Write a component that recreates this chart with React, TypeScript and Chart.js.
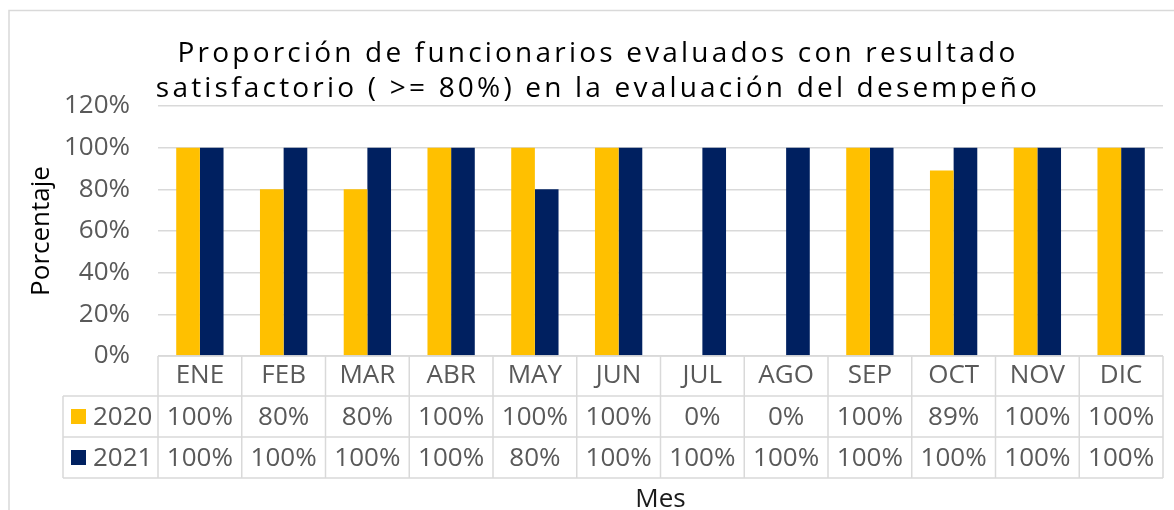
import { useEffect, useRef } from "react";
import { Chart, registerables } from "chart.js";

Chart.register(...registerables);

const months = ["ENE", "FEB", "MAR", "ABR", "MAY", "JUN", "JUL", "AGO", "SEP", "OCT", "NOV", "DIC"];
const series2020 = [100, 80, 80, 100, 100, 100, 0, 0, 100, 89, 100, 100];
const series2021 = [100, 100, 100, 100, 80, 100, 100, 100, 100, 100, 100, 100];
const seriesNames = ["2020", "2021"];
const seriesColors = ["#FFC000", "#002060"];
const yTicks = [0, 20, 40, 60, 80, 100, 120];
const titleLines = [
  "Proporción de funcionarios evaluados con resultado",
  "satisfactorio ( >= 80%) en la evaluación del desempeño",
];
const yTitle = "Porcentaje";
const xTitle = "Mes";

const FONT = "'Open Sans', sans-serif";
const GRAY = "#595959";
const LINE = "#d9d9d9";

const framePlugin = {
  id: "frameAndTitle",
  beforeDraw(chart: any) {
    const ctx = chart.ctx;
    ctx.save();
    ctx.fillStyle = "#ffffff";
    ctx.fillRect(0, 0, chart.width, chart.height);
    ctx.strokeStyle = LINE;
    ctx.lineWidth = 1.5;
    ctx.strokeRect(9, 10.5, chart.width + 20, chart.height + 20);
    ctx.restore();
  },
  afterDraw(chart: any) {
    const ctx = chart.ctx;
    ctx.save();
    ctx.font = `28px ${FONT}`;
    (ctx as any).letterSpacing = "3.2px";
    ctx.fillStyle = "#000000";
    ctx.textAlign = "center";
    ctx.textBaseline = "alphabetic";
    const cx = 598;
    const baselines = [62, 97];
    titleLines.forEach((t, i) => ctx.fillText(t, cx, baselines[i]));
    ctx.restore();
  },
};

const tablePlugin = {
  id: "dataTable",
  afterDraw(chart: any) {
    const ctx = chart.ctx;
    const xs = chart.scales.x;
    const n = months.length;
    const half = (xs.getPixelForValue(1) - xs.getPixelForValue(0)) / 2;
    const left = xs.getPixelForValue(0) - half;
    const right = xs.getPixelForValue(n - 1) + half;
    const top = chart.chartArea.bottom;
    const rows = [top, top + 40, top + 81, top + 122];
    const legendLeft = 63;
    const seriesData = [series2020, series2021];

    ctx.save();
    ctx.strokeStyle = LINE;
    ctx.lineWidth = 1.5;
    const line = (x1: number, y1: number, x2: number, y2: number) => {
      ctx.beginPath();
      ctx.moveTo(x1, y1);
      ctx.lineTo(x2, y2);
      ctx.stroke();
    };
    line(left, rows[0], right, rows[0]);
    for (let r = 1; r < rows.length; r++) line(legendLeft, rows[r], right, rows[r]);
    for (let i = 0; i <= n; i++) {
      const x = i < n ? xs.getPixelForValue(i) - half : right;
      line(x, rows[0], x, rows[3]);
    }
    line(legendLeft, rows[1], legendLeft, rows[3]);

    ctx.font = `26px ${FONT}`;
    ctx.textBaseline = "middle";
    for (let s = 0; s < 2; s++) {
      const cy = (rows[s + 1] + rows[s + 2]) / 2;
      ctx.fillStyle = seriesColors[s];
      ctx.fillRect(71, cy - 7.5, 15, 15);
      ctx.fillStyle = GRAY;
      ctx.textAlign = "left";
      ctx.fillText(seriesNames[s], 93, cy + 1);
      ctx.textAlign = "center";
      for (let i = 0; i < n; i++) {
        ctx.fillText(`${seriesData[s][i]}%`, xs.getPixelForValue(i), cy + 1);
      }
    }
    ctx.restore();
  },
};

export default function App() {
  const ref = useRef<HTMLCanvasElement>(null);
  useEffect(() => {
    document.body.style.margin = "0";
    const chart = new Chart(ref.current as HTMLCanvasElement, {
      type: "bar",
      data: {
        labels: months,
        datasets: [
          {
            label: seriesNames[0],
            data: series2020,
            backgroundColor: seriesColors[0],
            borderWidth: 0,
            categoryPercentage: 0.565,
            barPercentage: 1,
          },
          {
            label: seriesNames[1],
            data: series2021,
            backgroundColor: seriesColors[1],
            borderWidth: 0,
            categoryPercentage: 0.565,
            barPercentage: 1,
          },
        ],
      },
      options: {
        responsive: false,
        animation: false,
        layout: { padding: { left: 29, right: 11, top: 106, bottom: 0 } },
        plugins: {
          legend: { display: false },
          tooltip: { enabled: false },
          title: { display: false },
        },
        scales: {
          x: {
            grid: { display: false, drawTicks: false },
            border: { display: false },
            ticks: {
              color: GRAY,
              font: { family: FONT, size: 26 },
              padding: 4,
              maxRotation: 0,
              autoSkip: false,
            },
            title: {
              display: true,
              text: xTitle,
              color: "#1a1a1a",
              font: { family: FONT, size: 26, lineHeight: 1 },
              padding: { top: 0, bottom: -3 },
            },
            afterFit(s: any) {
              s.height = 154;
            },
          },
          y: {
            min: 0,
            max: 120,
            afterBuildTicks(s: any) {
              s.ticks = yTicks.map((v) => ({ value: v }));
            },
            ticks: {
              color: GRAY,
              font: { family: FONT, size: 26 },
              padding: 28,
              callback: (v: any) => `${v}%`,
            },
            grid: { color: LINE, lineWidth: 1.5, drawTicks: false },
            border: { display: false },
            title: {
              display: true,
              text: yTitle,
              color: "#000000",
              font: { family: FONT, size: 26, lineHeight: 1 },
              padding: { top: 0, bottom: 0 },
            },
            afterFit(s: any) {
              s.width = 129;
            },
          },
        },
      },
      plugins: [framePlugin, tablePlugin],
    } as any);
    return () => chart.destroy();
  }, []);
  return (
    <div style={{ position: "absolute", left: 0, top: 0, width: 1174, height: 510 }}>
      <canvas ref={ref} width={1174} height={510} />
    </div>
  );
}
